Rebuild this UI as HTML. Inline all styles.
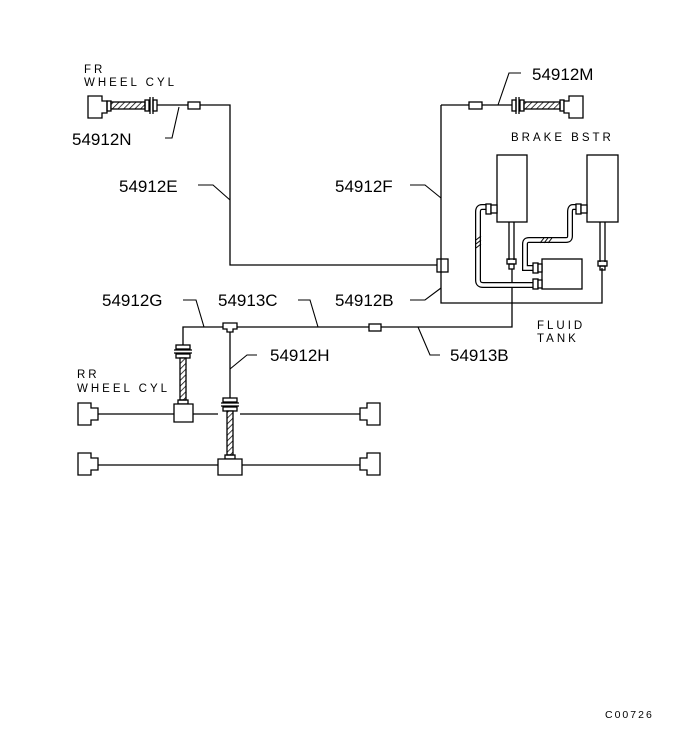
<!DOCTYPE html>
<html><head><style>
html,body{margin:0;padding:0;background:#fff;}
svg{display:block;}
text{font-family:"Liberation Sans",sans-serif;fill:#000;}
.lb{font-size:17px;}
.sm{font-size:11.5px;letter-spacing:3px;}
</style></head><body>
<svg width="697" height="751" viewBox="0 0 697 751" xmlns="http://www.w3.org/2000/svg">
<defs>
<pattern id="h" width="4" height="4" patternUnits="userSpaceOnUse" patternTransform="rotate(45)">
<rect width="4" height="4" fill="#fff"/><line x1="0" y1="0" x2="0" y2="4" stroke="#000" stroke-width="1.5"/>
</pattern>
</defs>
<g fill="none" stroke="#000" stroke-width="1.3">
<!-- FR wheel cyl -->
<path d="M88,96 h14 v5 h5 v12 h-5 v5 h-14 z" fill="#fff"/>
<rect x="107" y="101" width="4" height="10"/>
<rect x="111" y="102" width="34" height="7" fill="url(#h)"/>
<rect x="145" y="100" width="4" height="11"/>
<line x1="150" y1="97" x2="150" y2="114"/><line x1="153" y1="97" x2="153" y2="114"/>
<rect x="153" y="100" width="4" height="11"/>
<path d="M157,105 H230 V265 H437"/>
<rect x="188" y="102" width="12" height="7" fill="#fff"/>
<rect x="437" y="259" width="11" height="13" fill="#fff"/>
<!-- right vertical -->
<path d="M441,105 V303 H602 V268"/>
<path d="M441,105 H512"/>
<rect x="469" y="102" width="13" height="7" fill="#fff"/>
<rect x="512" y="100" width="4" height="11"/>
<line x1="516" y1="97" x2="516" y2="114"/><line x1="519" y1="97" x2="519" y2="114"/>
<rect x="520" y="100" width="4" height="11"/>
<rect x="524" y="102" width="36" height="7" fill="url(#h)"/>
<rect x="560" y="100" width="4" height="11"/>
<path d="M564,101 h5 v-5 h14 v22 h-14 v-5 h-5 z" fill="#fff"/>
<!-- boosters -->
<rect x="497" y="155" width="30" height="67"/>
<rect x="587" y="155" width="31" height="67"/>
<rect x="542" y="259" width="40" height="30"/>
<line x1="509" y1="222" x2="509" y2="260"/><line x1="514" y1="222" x2="514" y2="260"/>
<line x1="600" y1="222" x2="600" y2="262"/><line x1="605" y1="222" x2="605" y2="262"/>
<rect x="507" y="259" width="9" height="5"/><rect x="509" y="264" width="5" height="5"/>
<rect x="598" y="261" width="9" height="5"/><rect x="600" y="266" width="5" height="4"/>
<path d="M512,269 V327 H183 V345"/>
<!-- hoses -->
<path d="M487,207 H482 Q478,207 478,212 V280 Q478,285 483,285 H533" stroke-width="6"/>
<path d="M487,207 H482 Q478,207 478,212 V280 Q478,285 483,285 H533" stroke="#fff" stroke-width="3.5"/>
<path d="M577,207 H573 Q570,207 570,212 V236 Q570,240 566,240 H529 Q525,240 525,244 V268 H533" stroke-width="6"/>
<path d="M577,207 H573 Q570,207 570,212 V236 Q570,240 566,240 H529 Q525,240 525,244 V268 H533" stroke="#fff" stroke-width="3.5"/>
<g stroke-width="1">
<line x1="476" y1="240" x2="481" y2="236"/><line x1="476" y1="244" x2="481" y2="240"/><line x1="476" y1="248" x2="481" y2="244"/>
<line x1="540" y1="243" x2="544" y2="238"/><line x1="544" y1="243" x2="548" y2="238"/><line x1="548" y1="243" x2="552" y2="238"/>
</g>
<rect x="486" y="204" width="5" height="10" fill="#fff"/><rect x="491" y="205" width="6" height="8" fill="#fff"/>
<rect x="576" y="204" width="5" height="10" fill="#fff"/><rect x="581" y="205" width="6" height="8" fill="#fff"/>
<rect x="533" y="263" width="5" height="10" fill="#fff"/><rect x="538" y="264" width="4" height="8" fill="#fff"/>
<rect x="533" y="279" width="5" height="10" fill="#fff"/><rect x="538" y="280" width="4" height="8" fill="#fff"/>
<!-- rear -->
<rect x="369" y="324" width="12" height="7" fill="#fff"/>
<path d="M223,323 H237 V329 H233 V332 H227 V329 H223 Z" fill="#fff"/>
<line x1="230" y1="332" x2="230" y2="398"/>
<rect x="176" y="345" width="14" height="4" fill="#fff"/><line x1="174" y1="350" x2="192" y2="350"/><line x1="174" y1="353" x2="192" y2="353"/><rect x="176" y="354" width="14" height="4" fill="#fff"/>
<rect x="180" y="358" width="6" height="42" fill="url(#h)"/>
<rect x="178" y="400" width="10" height="4"/>
<path d="M174,404 H193 V422 H174 Z" fill="#fff"/>
<rect x="223" y="398" width="14" height="4" fill="#fff"/><line x1="221" y1="403" x2="239" y2="403"/><line x1="221" y1="406" x2="239" y2="406"/><rect x="223" y="407" width="14" height="4" fill="#fff"/>
<rect x="227" y="411" width="6" height="44" fill="url(#h)"/>
<rect x="225" y="455" width="10" height="4"/>
<path d="M218,459 H242 V475 H218 Z" fill="#fff"/>
<path d="M78,403 h13 v5 h7 v12 h-7 v5 h-13 z" fill="#fff"/>
<path d="M78,453 h13 v5 h7 v12 h-7 v5 h-13 z" fill="#fff"/>
<path d="M380,403 h-13 v5 h-7 v12 h7 v5 h13 z" fill="#fff"/>
<path d="M380,453 h-13 v5 h-7 v12 h7 v5 h13 z" fill="#fff"/>
<line x1="98" y1="414" x2="174" y2="414"/><line x1="193" y1="414" x2="218" y2="414"/><line x1="240" y1="414" x2="360" y2="414"/>
<line x1="98" y1="465" x2="218" y2="465"/><line x1="242" y1="465" x2="360" y2="465"/>
<!-- leaders -->
<g stroke-width="1.1">
<path d="M165,138 H172 L179,107"/>
<path d="M198,185 H213 L230,200"/>
<path d="M410,185 H425 L441,198"/>
<path d="M521,73 H509 L498,105"/>
<path d="M410,300 H425 L441,288"/>
<path d="M183,300 H196 L204,327"/>
<path d="M298,300 H310 L318,327"/>
<path d="M440,355 H430 L418,327"/>
<path d="M257,355 H247 L230,369"/>
</g>
</g>
<text class="sm" x="84" y="73">FR</text>
<text class="sm" x="84" y="86">WHEEL CYL</text>
<text class="lb" x="72" y="145">54912N</text>
<text class="lb" x="119" y="192">54912E</text>
<text class="lb" x="335" y="192">54912F</text>
<text class="lb" x="532" y="80">54912M</text>
<text class="sm" x="511" y="141">BRAKE BSTR</text>
<text class="lb" x="102" y="306">54912G</text>
<text class="lb" x="218" y="306">54913C</text>
<text class="lb" x="335" y="306">54912B</text>
<text class="sm" x="537" y="329">FLUID</text>
<text class="sm" x="537" y="342">TANK</text>
<text class="lb" x="270" y="361">54912H</text>
<text class="lb" x="450" y="361">54913B</text>
<text class="sm" x="77" y="378">RR</text>
<text class="sm" x="77" y="392">WHEEL CYL</text>
<text x="605" y="718" style="font-size:10.5px;letter-spacing:2px">C00726</text>
</svg>
</body></html>
